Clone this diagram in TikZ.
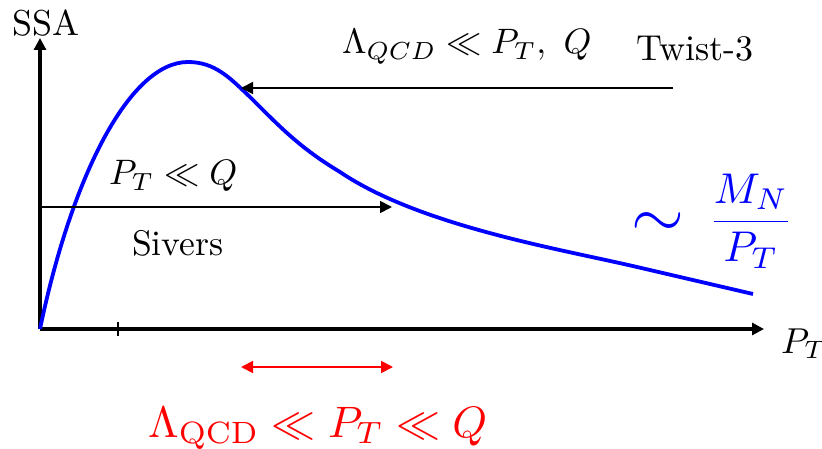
\documentclass[tikz,border=0pt]{standalone}
\usepackage{graphicx}
\usetikzlibrary{arrows.meta}
\newcommand{\fsz}[2]{\scalebox{#1}{#2}}
\begin{document}
\begin{tikzpicture}[x=1pt,y=-1pt,
  axis/.style={line width=3.1pt,-{Triangle[length=12pt,width=12pt]}},
  thinarrow/.style={line width=1.8pt,-{Triangle[length=12pt,width=12pt]}},
  curve/.style={blue,line width=3.8pt},
  lbl/.style={inner sep=0pt,anchor=base west}]
\useasboundingbox (0,0) rectangle (822,449);
\coordinate (O) at (40,329);
\coordinate (Ytop) at (40,38);
\coordinate (Xend) at (764,329);
\draw[axis] (O) -- (Ytop);
\draw[axis] (O) -- (Xend);
\coordinate (tk1) at (118,322);
\coordinate (tk2) at (118,336);
\draw[line width=2pt] (tk1) -- (tk2);
\node[lbl] (ssa) at (12,36) {\fsz{3.6}{SSA}};
\node[lbl] (pt) at (781,353) {\fsz{3.6}{$P_T$}};
\draw[curve] (O) .. controls (72,175) and (130,62) .. (188,62)
  .. controls (215,62) and (230,78) .. (250,97)
  .. controls (280,127) and (300,148) .. (340,172)
  .. controls (420,226) and (560,249) .. (637,267) -- (753,294);
% Twist-3 arrow
\coordinate (tw1) at (673,88);
\coordinate (tw2) at (241,88);
\draw[thinarrow] (tw1) -- (tw2);
\node[lbl] (lam) at (342,54) {\fsz{3.53}{$\Lambda_{QCD}\ll P_T,\ Q$}};
\node[lbl] (twist) at (636,61) {\fsz{3.6}{Twist-3}};
% Sivers arrow
\coordinate (sv1) at (40,207);
\coordinate (sv2) at (392,207);
\draw[thinarrow] (sv1) -- (sv2);
\node[lbl] (ptq) at (109,185) {\fsz{3.54}{$P_T\ll Q$}};
\node[lbl] (sivers) at (132,255) {\fsz{3.56}{Sivers}};
% asymptotic
\node[blue,inner sep=0pt] (sim) at (658,225) {\fsz{6.8}{$\sim$}};
\node[blue,inner sep=0pt] (frac) at (751,221) {\fsz{4.3}{$\displaystyle\frac{M_N}{P_T}$}};
% red range
\coordinate (r1) at (241,367);
\coordinate (r2) at (393,367);
\draw[red,line width=1.8pt,{Triangle[length=12pt,width=12pt]}-{Triangle[length=12pt,width=12pt]}] (r1) -- (r2);
\node[lbl,red] (range) at (148,437) {\fsz{4.4}{$\Lambda_{\rm QCD}\ll P_T\ll Q$}};
\end{tikzpicture}
\end{document}
